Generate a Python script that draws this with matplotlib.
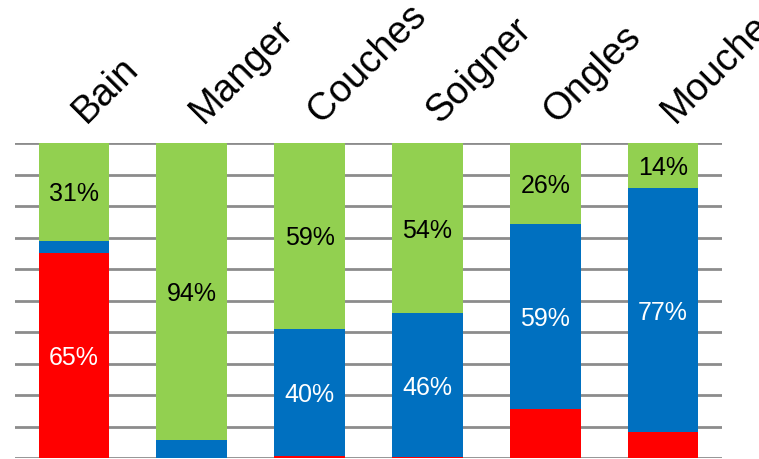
import numpy as np
import matplotlib.pyplot as plt

plt.rcParams['font.family'] = ['Liberation Sans', 'DejaVu Sans']

categories = ["Bain", "Manger", "Couches", "Soigner", "Ongles", "Mouche"]
red_vals = [65, 0, 0.6, 0.3, 15.6, 8.2]
blue_vals = [4, 5.7, 40.4, 45.7, 58.6, 77.4]
green_vals = [31, 94.3, 59, 54, 25.8, 14.4]

# which segments get a percentage label
show_red = [True, False, False, False, False, False]
show_blue = [False, False, True, True, True, True]
show_green = [True, True, True, True, True, True]

RED = "#FF0000"
BLUE = "#0070C0"
GREEN = "#92D050"

fig = plt.figure(figsize=(7.59, 4.59), dpi=100)
ax = fig.add_axes([15 / 759, 1 / 459, (722 - 15) / 759, 315 / 459])

x = np.arange(len(categories))
red = np.array(red_vals)
blue = np.array(blue_vals)
green = np.array(green_vals)

w = 0.6
ax.bar(x, red, w, color=RED, zorder=3)
ax.bar(x, blue, w, bottom=red, color=BLUE, zorder=3)
ax.bar(x, green, w, bottom=red + blue, color=GREEN, zorder=3)

lab = dict(ha="center", va="center_baseline", fontsize=18, zorder=4)
for i in range(len(categories)):
    if show_red[i]:
        ax.text(x[i], red[i] / 2, f"{red[i]:.0f}%", color="white", **lab)
    if show_blue[i]:
        ax.text(x[i], red[i] + blue[i] / 2, f"{blue[i]:.0f}%", color="white", **lab)
    if show_green[i]:
        ax.text(x[i], red[i] + blue[i] + green[i] / 2, f"{green[i]:.0f}%",
                color="black", **lab)

# category labels along the top, rotated
for i, name in enumerate(categories):
    ax.text(x[i] + 0.1, 1.06, name, transform=ax.get_xaxis_transform(),
            rotation=45, rotation_mode="anchor", ha="left", va="baseline",
            fontsize=27.5, clip_on=False)

ax.set_xlim(-0.5, 5.5)
ax.set_ylim(0, 100)
ax.set_yticks(np.arange(0, 101, 10))
ax.yaxis.grid(True, color="#8c8c8c", linewidth=2, zorder=0)
ax.set_xticks([])
ax.tick_params(left=False, labelleft=False)
for s in ax.spines.values():
    s.set_visible(False)

fig.savefig("out.png", dpi=100)
